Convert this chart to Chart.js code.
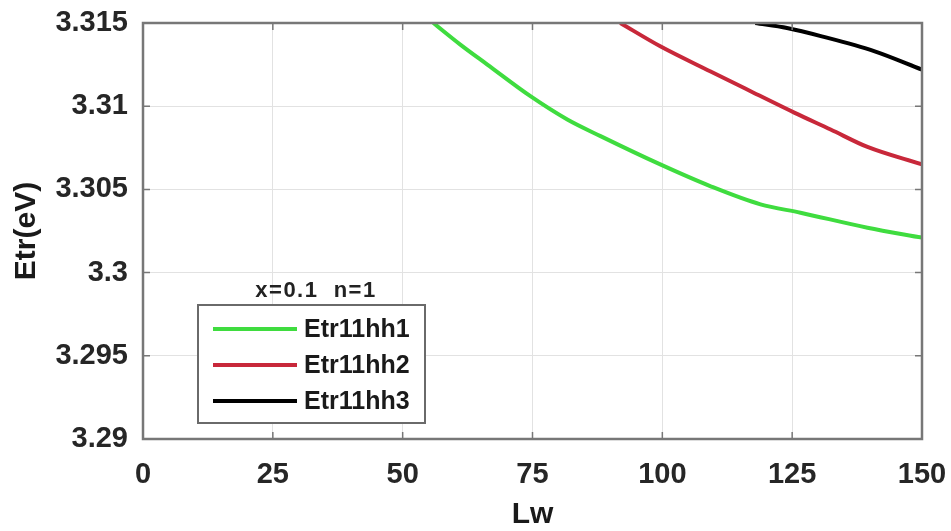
<!DOCTYPE html>
<html>
<head>
<meta charset="utf-8">
<script src="https://cdn.jsdelivr.net/npm/chart.js@4"></script>
<style>
  html, body { margin: 0; padding: 0; background: #fff; }
  #wrap { width: 951px; height: 531px; }
</style>
</head>
<body>
<div id="wrap"><canvas id="etrChart" width="951" height="531"></canvas></div>
<script>
// transition energies vs well width
const lwHh1 = [55.9, 61.1, 66.3, 74.6, 81.7, 88.1, 99.6, 109.2, 118.9, 126.6, 139.5, 150];
const etrHh1 = [3.315, 3.3137, 3.3125, 3.3106, 3.3092, 3.3082, 3.3065, 3.3052, 3.3041, 3.3036, 3.3027, 3.3021];

const lwHh2 = [91.9, 99.6, 109.2, 117, 125.5, 132.4, 139.5, 150];
const etrHh2 = [3.315, 3.3136, 3.3121, 3.3109, 3.3096, 3.3086, 3.30755, 3.3065];

const lwHh3 = [117.9, 124, 130.7, 140.9, 150];
const etrHh3 = [3.315, 3.3147, 3.3142, 3.3133, 3.3122];

const seriesNames = ['Etr11hh1', 'Etr11hh2', 'Etr11hh3'];
const seriesColors = ['#3fdc3f', '#c8283a', '#000000'];
const xTicks = [0, 25, 50, 75, 100, 125, 150];
const yTicks = [3.29, 3.295, 3.3, 3.305, 3.31, 3.315];
const legendTitle = 'x=0.1  n=1';

const FONT = "'Liberation Sans', Arial, sans-serif";

function pts(xs, ys) {
    return xs.map((x, i) => ({ x: x, y: ys[i] }));
}

// axes box, inward ticks and the boxed legend
const matlabBox = {
    id: 'matlabBox',
    afterDatasetsDraw(chart) {
        const ctx = chart.ctx;
        const a = chart.chartArea;
        const xs = chart.scales.x, ys = chart.scales.y;
        ctx.save();
        ctx.strokeStyle = '#777';
        ctx.lineWidth = 1.5;
        ctx.beginPath();
        xTicks.forEach(v => {
            const px = xs.getPixelForValue(v);
            ctx.moveTo(px, a.bottom); ctx.lineTo(px, a.bottom - 7);
            ctx.moveTo(px, a.top); ctx.lineTo(px, a.top + 7);
        });
        yTicks.forEach(v => {
            const py = ys.getPixelForValue(v);
            ctx.moveTo(a.left, py); ctx.lineTo(a.left + 7, py);
            ctx.moveTo(a.right, py); ctx.lineTo(a.right - 7, py);
        });
        ctx.stroke();
        ctx.lineWidth = 2.5;
        ctx.strokeRect(a.left, a.top, a.right - a.left, a.bottom - a.top);

        // legend
        const lx = 198, ly = 305, lw = 227, lh = 118;
        ctx.fillStyle = '#fff';
        ctx.fillRect(lx, ly, lw, lh);
        ctx.strokeStyle = '#6a6a6a';
        ctx.lineWidth = 2;
        ctx.strokeRect(lx, ly, lw, lh);

        ctx.fillStyle = '#222';
        ctx.font = 'bold 22px ' + FONT;
        ctx.textAlign = 'center';
        ctx.textBaseline = 'middle';
        ctx.letterSpacing = '1.5px';
        ctx.fillText(legendTitle, 316, 291);
        ctx.letterSpacing = '0px';

        ctx.font = 'bold 25px ' + FONT;
        ctx.textAlign = 'left';
        seriesNames.forEach((name, i) => {
            const y = 329 + i * 36;
            ctx.strokeStyle = seriesColors[i];
            ctx.lineWidth = 4;
            ctx.beginPath();
            ctx.moveTo(213, y);
            ctx.lineTo(297, y);
            ctx.stroke();
            ctx.fillStyle = '#1a1a1a';
            ctx.fillText(name, 304, y + 1);
        });
        ctx.restore();
    }
};

const data = {
    datasets: [
        { label: seriesNames[0], data: pts(lwHh1, etrHh1) },
        { label: seriesNames[1], data: pts(lwHh2, etrHh2) },
        { label: seriesNames[2], data: pts(lwHh3, etrHh3) }
    ].map((d, i) => Object.assign(d, {
        borderColor: seriesColors[i],
        backgroundColor: seriesColors[i],
        borderWidth: 4,
        pointRadius: 0,
        fill: false,
        cubicInterpolationMode: 'monotone'
    }))
};

const config = {
    type: 'line',
    data: data,
    options: {
        responsive: false,
        animation: false,
        layout: { padding: { left: 0, top: 23, right: 29, bottom: 0 } },
        plugins: { legend: { display: false }, tooltip: { enabled: false } },
        scales: {
            x: {
                type: 'linear',
                min: 0,
                max: 150,
                afterBuildTicks: s => { s.ticks = xTicks.map(v => ({ value: v })); },
                afterFit: s => { s.height = 92; s.paddingLeft = 0; s.paddingRight = 0; },
                grid: { color: '#e2e2e2', lineWidth: 1, drawTicks: false },
                border: { display: false },
                ticks: {
                    padding: 19,
                    color: '#262626',
                    font: { family: FONT, size: 29, weight: 'bold' },
                    maxRotation: 0
                },
                title: {
                    display: true,
                    text: 'Lw',
                    color: '#1a1a1a',
                    font: { family: FONT, size: 30, weight: 'bold', lineHeight: 1 },
                    padding: { top: 0, bottom: 1 }
                }
            },
            y: {
                min: 3.29,
                max: 3.315,
                afterBuildTicks: s => { s.ticks = yTicks.map(v => ({ value: v })); },
                afterFit: s => { s.width = 143; s.paddingTop = 0; s.paddingBottom = 0; },
                grid: { color: '#e2e2e2', lineWidth: 1, drawTicks: false },
                border: { display: false },
                ticks: {
                    padding: 15,
                    color: '#262626',
                    font: { family: FONT, size: 29, weight: 'bold' },
                    callback: v => String(Number(v.toFixed(3)))
                },
                title: {
                    display: true,
                    text: 'Etr(eV)',
                    color: '#1a1a1a',
                    font: { family: FONT, size: 30, weight: 'bold', lineHeight: 1 },
                    padding: { top: 12, bottom: 0 }
                }
            }
        }
    },
    plugins: [matlabBox]
};

new Chart(document.getElementById('etrChart').getContext('2d'), config);
</script>
</body>
</html>
